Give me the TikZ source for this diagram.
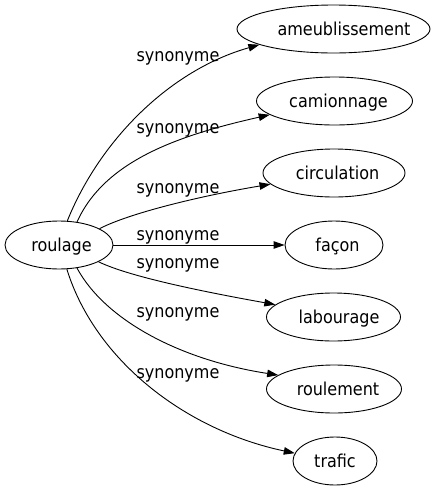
\documentclass[tikz,border=0pt]{standalone}
\usepackage{fontspec}
\setmainfont{DejaVu Sans Condensed}
\usetikzlibrary{shapes.geometric,arrows.meta}
\newcommand{\offtext}[2]{\makebox[0pt]{\hspace*{#1}#2}}
\begin{document}
\begin{tikzpicture}[x=1pt,y=-1pt,
  every node/.style={font=\fontsize{17.8pt}{21pt}\selectfont},
  term/.style={ellipse, draw, line width=0.9pt, inner sep=0pt, minimum height=48pt, text height=12pt, text depth=0pt},
  rel/.style={anchor=base, inner sep=0pt},
  link/.style={draw, line width=0.9pt, -{Triangle[length=11pt,width=7.5pt]}}]
\useasboundingbox (0,0) rectangle (437,491);
% nodes
\node[term, minimum width=108pt] (roulage) at (59,245) {\offtext{5pt}{roulage}};
\node[term, minimum width=193pt] (ameu) at (333.5,29) {\offtext{21pt}{ameublissement}};
\node[term, minimum width=156pt] (cami) at (334.5,101) {\offtext{8pt}{camionnage}};
\node[term, minimum width=142pt] (circ) at (334,173) {\offtext{7pt}{circulation}};
\node[term, minimum width=98pt] (facon) at (334,245) {\offtext{7pt}{façon}};
\node[term, minimum width=134pt] (labo) at (333.5,317) {\offtext{11pt}{labourage}};
\node[term, minimum width=135pt] (roul) at (334,389) {\offtext{8pt}{roulement}};
\node[term, minimum width=84pt] (traf) at (335,461) {\offtext{0pt}{trafic}};
% edges
\draw[link] (roulage.71.6) .. controls (100,140) and (170,70) .. (ameu.192.6);
\draw[link] (roulage.52) .. controls (105,160) and (180,135) .. (cami.192.3);
\draw[link] (roulage.22.5) .. controls (130,213) and (200,196) .. (circ.190.2);
\draw[link] (roulage.east) -- (facon.west);
\draw[link] (roulage.337.5) .. controls (130,277) and (205,292) .. (labo.168.8);
\draw[link] (roulage.308) .. controls (105,320) and (180,360) .. (roul.166.7);
\draw[link] (roulage.288) .. controls (95,360) and (185,430) .. (traf.169.2);
% labels
\node[rel] (s1) at (178,61) {synonyme};
\node[rel] (s2) at (178,133) {synonyme};
\node[rel] (s3) at (178,193) {synonyme};
\node[rel] (s4) at (178,240) {synonyme};
\node[rel] (s5) at (178,268) {synonyme};
\node[rel] (s6) at (178,317) {synonyme};
\node[rel] (s7) at (178,378) {synonyme};
\end{tikzpicture}
\end{document}
